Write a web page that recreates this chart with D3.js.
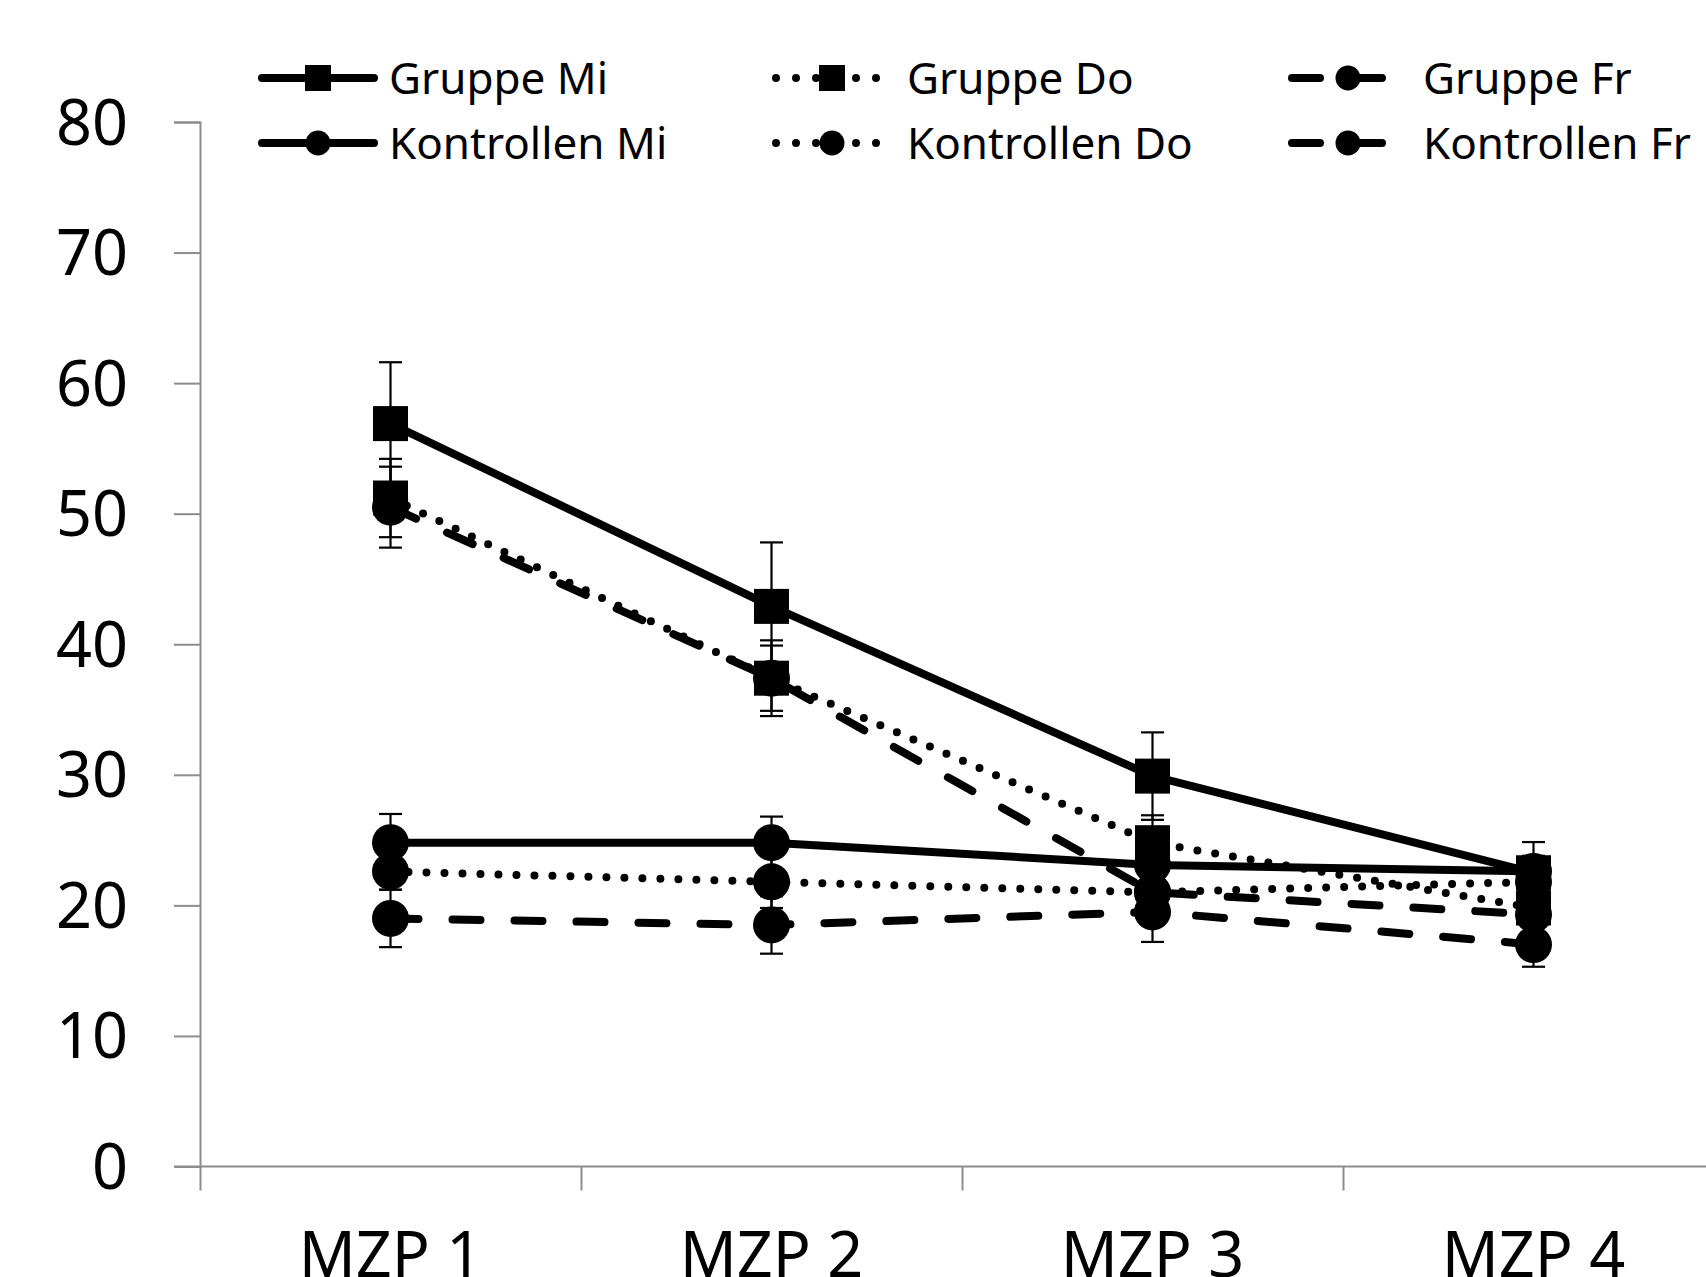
<!DOCTYPE html>
<html>
<head>
<meta charset="utf-8">
<script src="https://cdn.jsdelivr.net/npm/d3@7"></script>
<style>
  html, body { margin: 0; padding: 0; background: #fff; overflow: hidden; }
  svg { display: block; font-family: "Noto Sans", "Open Sans", sans-serif; }
</style>
</head>
<body>
<div id="chart"></div>
<script>
// Messzeitpunkte
var categories = ['MZP 1', 'MZP 2', 'MZP 3', 'MZP 4']
var yTicks = [0, 10, 20, 30, 40, 50, 60, 70, 80]

// Mittelwerte + Fehler
var gruppeMi = [56.9, 42.9, 29.9, 22.5]
var gruppeMiErr = [4.7, 4.9, 3.35, 2.35]
var gruppeDo = [51.2, 37.4, 24.8, 19.8]
var gruppeDoErr = [3.0, 2.9, 2.1, 1.5]
var gruppeFr = [50.5, 37.4, 21.0, 19.3]
var gruppeFrErr = [3.1, 2.5, 1.6, 1.5]
var kontrollenMi = [24.8, 24.8, 23.1, 22.6]
var kontrollenMiErr = [2.2, 2.0, 1.6, 1.2]
var kontrollenDo = [22.6, 21.8, 21.0, 21.8]
var kontrollenDoErr = [1.4, 2.0, 1.4, 1.2]
var kontrollenFr = [19.0, 18.5, 19.5, 17.0]
var kontrollenFrErr = [2.2, 2.2, 2.3, 1.7]

var seriesNames = ['Gruppe Mi', 'Gruppe Do', 'Gruppe Fr', 'Kontrollen Mi', 'Kontrollen Do', 'Kontrollen Fr']
var seriesValues = [gruppeMi, gruppeDo, gruppeFr, kontrollenMi, kontrollenDo, kontrollenFr]
var seriesErrors = [gruppeMiErr, gruppeDoErr, gruppeFrErr, kontrollenMiErr, kontrollenDoErr, kontrollenFrErr]
var seriesStyle = ['solid', 'dot', 'dash', 'solid', 'dot', 'dash']
var seriesMarker = ['square', 'square', 'circle', 'circle', 'circle', 'circle']

var series = seriesNames.map(function(name, i){
  return {
    name: name,
    style: seriesStyle[i],
    marker: seriesMarker[i],
    points: categories.map(function(c, j){ return {cat: c, v: seriesValues[i][j], e: seriesErrors[i][j]} })
  }
})

var width = 1706, height = 1277

var svg = d3.select('#chart').append('svg')
  .attr('width', width).attr('height', height)

// plot area runs off the right edge like in the original
var y = d3.scaleLinear().domain([0, 80]).range([1166.5, 122])
var x = d3.scaleBand().domain(categories).range([200, 1724]).padding(0)
var xEdge = d3.scaleLinear().domain([0, categories.length]).range([200, 1724])
var cx = function(c){ return x(c) + x.bandwidth() / 2 }

var axisColor = '#8c8c8c'

// y axis
var yAxis = svg.append('g').attr('transform', 'translate(200,0)')
  .call(d3.axisLeft(y).tickValues(yTicks).tickSize(26).tickPadding(46).tickFormat(d3.format('d')))
yAxis.select('.domain').attr('stroke', axisColor).attr('stroke-width', 2)
yAxis.selectAll('.tick line').attr('stroke', axisColor).attr('stroke-width', 2)
yAxis.selectAll('.tick text')
  .attr('font-size', 63).attr('fill', '#000')
  .attr('font-family', '"Noto Sans", sans-serif')
  .attr('dy', 22)

// x axis: ticks between categories
var xAxis = svg.append('g').attr('transform', 'translate(0,' + y(0) + ')')
  .call(d3.axisBottom(xEdge).tickValues(d3.range(categories.length + 1)).tickSize(24).tickFormat(''))
xAxis.select('.domain').attr('stroke', axisColor).attr('stroke-width', 2)
  .attr('d', 'M174,0H1724')
xAxis.selectAll('.tick line').attr('stroke', axisColor).attr('stroke-width', 2)

var xLabels = svg.append('g').attr('transform', 'translate(0,' + y(0) + ')')
  .call(d3.axisBottom(x).tickSize(0).tickPadding(0))
xLabels.select('.domain').remove()
xLabels.selectAll('.tick text')
  .attr('font-size', 63).attr('fill', '#000')
  .attr('font-family', '"Noto Sans", sans-serif')
  .attr('y', 0).attr('dy', 110)

function dash(style){
  if (style == 'dot') return '0,18'
  if (style == 'dash') return '28,34'
  return null
}

var line = d3.line().x(function(d){ return cx(d.cat) }).y(function(d){ return y(d.v) })

var sq = 35, rad = 18.5, capW = 23

// error bars first
series.forEach(function(s){
  var g = svg.append('g').attr('stroke', '#000').attr('stroke-width', 2.2)
  s.points.forEach(function(p){
    var px = cx(p.cat)
    g.append('line').attr('x1', px).attr('x2', px).attr('y1', y(p.v + p.e)).attr('y2', y(p.v - p.e))
    g.append('line').attr('x1', px - capW / 2).attr('x2', px + capW / 2).attr('y1', y(p.v + p.e)).attr('y2', y(p.v + p.e))
    g.append('line').attr('x1', px - capW / 2).attr('x2', px + capW / 2).attr('y1', y(p.v - p.e)).attr('y2', y(p.v - p.e))
  })
})

function drawMarker(g, type, px, py, size){
  if (type == 'square') {
    g.append('rect').attr('x', px - size / 2).attr('y', py - size / 2)
      .attr('width', size).attr('height', size).attr('fill', '#000')
  } else {
    g.append('circle').attr('cx', px).attr('cy', py).attr('r', size / 2 + 1).attr('fill', '#000')
  }
}

// lines + markers per series
series.forEach(function(s){
  var g = svg.append('g')
  g.append('path').attr('d', line(s.points))
    .attr('fill', 'none').attr('stroke', '#000').attr('stroke-width', 8)
    .attr('stroke-linecap', s.style == 'solid' ? 'butt' : 'round')
    .attr('stroke-linejoin', 'round')
    .attr('stroke-dasharray', dash(s.style))
  s.points.forEach(function(p){
    drawMarker(g, s.marker, cx(p.cat), y(p.v), s.marker == 'square' ? sq : rad * 2 - 2)
  })
})

// legend: 3 columns x 2 rows
var legSymX = [258, 772, 1288]
var legTextX = [389, 907, 1423]
var legRowY = [78, 143]

var legend = svg.append('g')
series.forEach(function(s, i){
  var col = i % 3, row = Math.floor(i / 3)
  var x0 = legSymX[col], ly = legRowY[row]
  var g = legend.append('g')
  g.append('line').attr('x1', x0 + 4).attr('x2', x0 + 116).attr('y1', ly).attr('y2', ly)
    .attr('stroke', '#000').attr('stroke-width', 8)
    .attr('stroke-linecap', 'round')
    .attr('stroke-dasharray', s.style == 'dot' ? '0,20' : dash(s.style))
  drawMarker(g, s.marker, x0 + 60, ly, s.marker == 'square' ? 26 : 23)
  g.append('text').attr('x', legTextX[col]).attr('y', ly + 16)
    .attr('font-size', 44).attr('fill', '#000')
    .text(s.name)
})
</script>
</body>
</html>
